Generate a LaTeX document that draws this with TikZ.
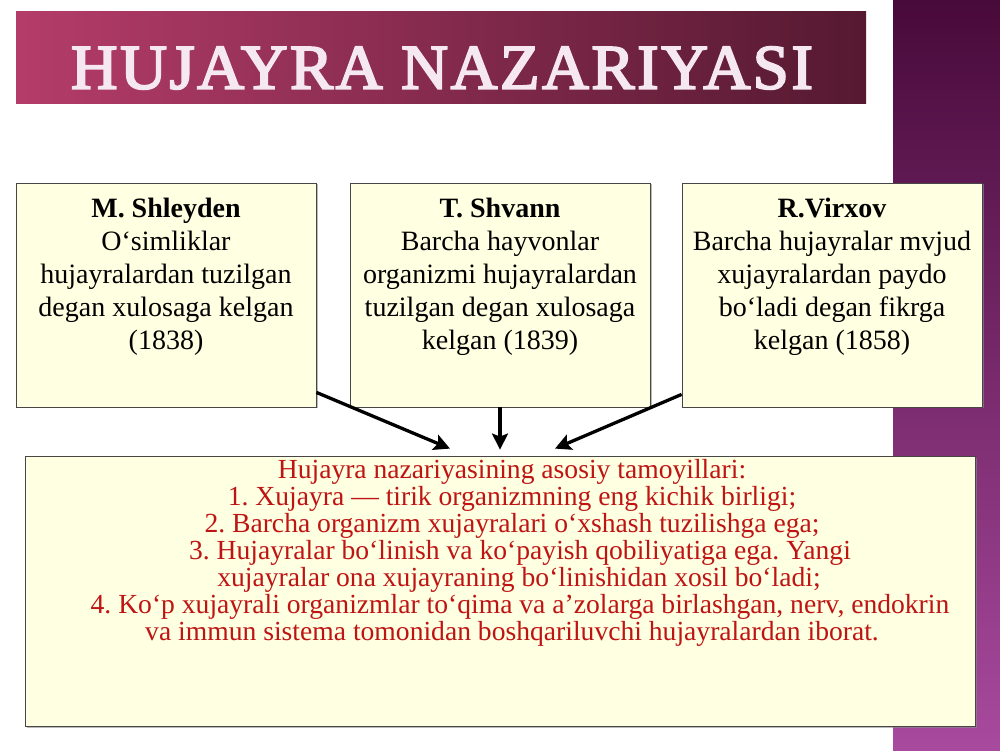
\documentclass[tikz,border=0pt]{standalone}
\usepackage{fontspec}
\setmainfont{Liberation Serif}
\newfontfamily\titlefont[LetterSpace=4]{Liberation Serif}
\usetikzlibrary{arrows.meta,shadows,calc}
\definecolor{boxfill}{RGB}{255,255,225}
\definecolor{boxline}{RGB}{70,70,70}
\definecolor{redtxt}{RGB}{190,20,20}
\definecolor{titletxt}{RGB}{246,232,240}
\definecolor{barleft}{RGB}{180,60,105}
\definecolor{barright}{RGB}{85,25,48}
\definecolor{stripetop}{RGB}{72,10,58}
\definecolor{stripebot}{RGB}{168,74,158}
\newcommand{\semibold}[1]{\special{pdf:literal direct 2 Tr 0.3 w 0.965 0.91 0.94 RG}#1\special{pdf:literal direct 0 Tr}}
\tikzset{
  infobox/.style={draw=boxline, line width=0.8pt, fill=boxfill, inner sep=0pt,
    drop shadow={shadow xshift=1.5pt, shadow yshift=-1.5pt, fill=black!45, opacity=0.6}},
  infotext/.style={font=\fontsize{28}{33}\selectfont, align=center, inner sep=0pt, anchor=north, text=black},
  maintext/.style={font=\frenchspacing\fontsize{27.6}{27}\selectfont, align=center, inner sep=0pt, anchor=north, text=redtxt},
  conn/.style={line width=3.3pt, -{Stealth[length=16pt,width=16pt,inset=3pt]}}
}
\begin{document}
\begin{tikzpicture}[x=1pt,y=1pt]
\useasboundingbox (0,0) rectangle (1000,750);
\fill[white] (0,0) rectangle (1000,750);
% right stripe
\shade[top color=stripetop, bottom color=stripebot] (893,0) rectangle (1000,750);
% title bar
\shade[left color=barleft, right color=barright] (16,646) rectangle (866,738);
\node[inner sep=0pt] (title) at (442,682) {\textcolor{titletxt}{\resizebox{742pt}{42pt}{\titlefont\semibold{HUJAYRA NAZARIYASI}}}};
% top boxes
\node[infobox, minimum width=300pt, minimum height=224pt] (b1) at (166,455) {};
\node[infobox, minimum width=300pt, minimum height=224pt] (b2) at (500,455) {};
\node[infobox, minimum width=300pt, minimum height=224pt] (b3) at (832,455) {};
\node[infotext] (t1) at ([yshift=-15pt]b1.north) {\textbf{M. Shleyden}\\O‘simliklar\\hujayralardan tuzilgan\\degan xulosaga kelgan\\(1838)};
\node[infotext] (t2) at ([yshift=-15pt]b2.north) {\textbf{T. Shvann}\\Barcha hayvonlar\\organizmi hujayralardan\\tuzilgan degan xulosaga\\kelgan (1839)};
\node[infotext] (t3) at ([yshift=-15pt]b3.north) {\textbf{R.Virxov}\\Barcha hujayralar mvjud\\xujayralardan paydo\\bo‘ladi degan fikrga\\kelgan (1858)};
% main box
\node[infobox, minimum width=950pt, minimum height=270pt] (m) at (500,159) {};
\node[maintext] (mt) at ([xshift=12pt,yshift=-4pt]m.north) {Hujayra nazariyasining asosiy tamoyillari:\\
1. Xujayra — tirik organizmning eng kichik birligi;\\
2. Barcha organizm xujayralari o‘xshash tuzilishga ega;\\
\hspace*{16pt}3. Hujayralar bo‘linish va ko‘payish qobiliyatiga ega. Yangi\\
\hspace*{14pt}xujayralar ona xujayraning bo‘linishidan xosil bo‘ladi;\\
\hspace*{16pt}4. Ko‘p xujayrali organizmlar to‘qima va a’zolarga birlashgan, nerv, endokrin\\
va immun sistema tomonidan boshqariluvchi hujayralardan iborat.};
% connectors
\draw[conn] ([yshift=15pt]b1.south east) -- ([xshift=-50pt,yshift=7pt]m.north);
\draw[conn] (b2.south) -- ([yshift=6pt]m.north);
\draw[conn] ([yshift=13pt]b3.south west) -- ([xshift=55pt,yshift=7pt]m.north);
\end{tikzpicture}
\end{document}
